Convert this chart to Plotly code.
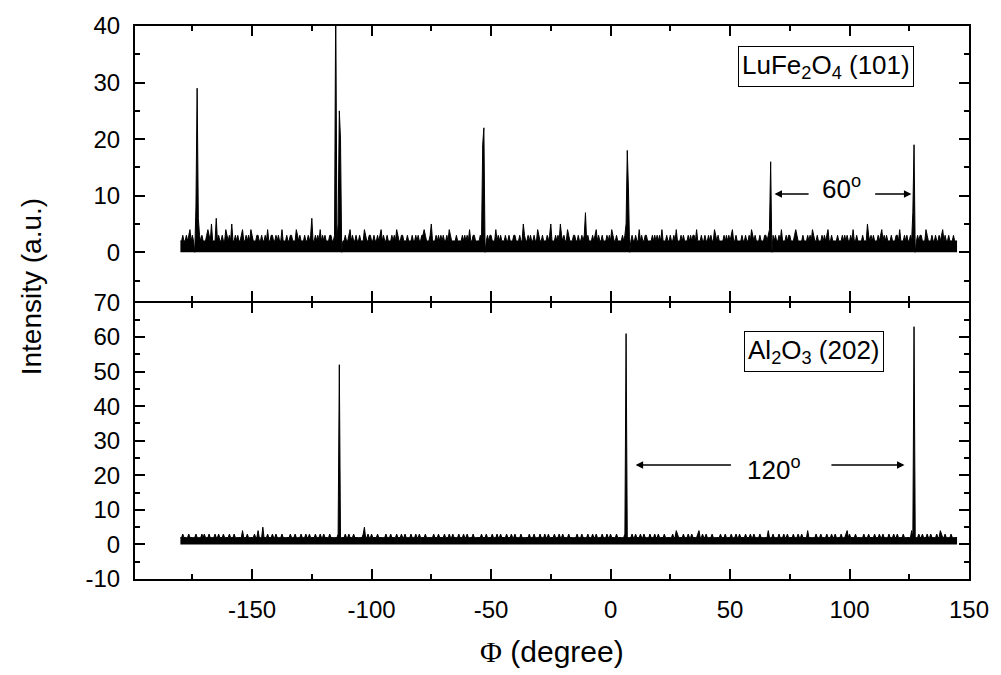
import plotly.graph_objects as go

# scan grid (phi in degrees)
x_start = -180.0
x_step = 0.5

# background envelope (counts), LuFe2O4 (101) scan, one digit per scan point
top_noise_groups = [
    "2232232342", "3222023232", "2234325222", "6232232243", "2325223232",
    "2342232324", "3222332232", "2324223322", "3232242223", "2233222432",
    "3222322323", "6223232423", "2322233223", "3232222232", "2342322322",
    "3222432233", "2232232342", "3223222323", "2432233222", "3222322323",
    "2233432223", "5222323232", "3223243222", "2322223232", "3242233222",
    "2323222323", "3222423232", "2232232223", "3222322532", "2323223224",
    "3223222323", "5222323253", "2322432223", "3223223237", "2322232342",
    "3223222323", "2432232222", "3232223232", "2322423223", "3222232323",
    "2324222322", "3223242223", "2322232323", "3242223223", "2232322432",
    "3222232323", "2342232222", "3223223243", "2322232223", "3232223232",
    "2324222323", "3222343222", "2322232324", "3223222323", "2342232222",
    "3222323232", "2324223222", "2322253232", "3222323423", "2322232223",
    "3242223232", "2322232323", "3222432223", "2232232342", "3223222322",
    "2",
]

# background envelope (counts), Al2O3 (202) scan
bot_noise_groups = [
    "2232222322", "2223222232", "3222322223", "2232223222", "2322232222",
    "2242223222", "2232242225", "2223222322", "3222232222", "2232223222",
    "2322232232", "2223222322", "3222232222", "2232222232", "2322232222",
    "2223522322", "3222232222", "2232223222", "2322232232", "2223222322",
    "3222232222", "2232223222", "2322232232", "2223222322", "3222232222",
    "2232223222", "2322232232", "2223222322", "3222232222", "2232223222",
    "2322232232", "2223222322", "3222232222", "2232223222", "2322232232",
    "2223222322", "3222232222", "2232222232", "2322232232", "2223222322",
    "3222232222", "2232243222", "2322232232", "2223422322", "3222232222",
    "2232223222", "2322232232", "2223222322", "3222232222", "2242223222",
    "2322232232", "2223222322", "3222242222", "2232223222", "2322232232",
    "2223222342", "3222232222", "2232223222", "2322232232", "2223222322",
    "3222232222", "2242222232", "2322232232", "2223224322", "3222232222",
    "2",
]

# Bragg peaks (and the dropouts right beside them)
top_peak_x = [-174.0, -173.5, -173.0, -172.5, -115.0,
              -114.0, -113.5, -113.0, -112.5,
              -53.5, -53.0, -52.5,
              6.5, 7.0, 7.5, 8.0,
              66.5, 67.0, 67.5,
              126.5, 127.0, 127.5]
top_peak_y = [0, 8, 29, 6, 45,
              5, 25, 20, 0,
              19, 22, 0,
              5, 18, 11, 0,
              4, 16, 0,
              7, 19, 0]
bot_peak_x = [-113.5, 6.5, 127.0]
bot_peak_y = [52, 61, 63]

x_ticks = [-150, -100, -50, 0, 50, 100, 150]
x_tick_text = ["-150", "-100", "-50", "0", "50", "100", "150"]
y_top_ticks = [0, 10, 20, 30, 40]
y_top_text = ["0", "10", "20", "30", "40"]
y_bot_ticks = [-10, 0, 10, 20, 30, 40, 50, 60, 70]
y_bot_text = ["-10", "0", "10", "20", "30", "40", "50", "60", "70"]


def build(groups, px, py):
    vals = [int(c) for c in "".join(groups)]
    xs = [x_start + i * x_step for i in range(len(vals))]
    for xp, yp in zip(px, py):
        vals[round((xp - x_start) / x_step)] = yp
    return xs, vals


xt, yt = build(top_noise_groups, top_peak_x, top_peak_y)
xb, yb = build(bot_noise_groups, bot_peak_x, bot_peak_y)

FONT = "Liberation Sans, Arial, sans-serif"

fig = go.Figure()
fig.add_trace(go.Scatter(x=xt, y=yt, mode="lines",
                         line=dict(color="black", width=1, simplify=False),
                         fill="tozeroy", fillcolor="black",
                         xaxis="x2", yaxis="y2", showlegend=False, hoverinfo="skip"))
fig.add_trace(go.Scatter(x=xb, y=yb, mode="lines",
                         line=dict(color="black", width=1, simplify=False),
                         fill="tozeroy", fillcolor="black",
                         xaxis="x", yaxis="y", showlegend=False, hoverinfo="skip"))

common = dict(showline=True, linecolor="black", linewidth=2, mirror="ticks",
              ticks="inside", ticklen=10, tickwidth=2, tickcolor="black",
              showgrid=False, zeroline=False,
              tickfont=dict(family=FONT, size=24, color="black"))


def minor(step):
    return dict(dtick=step, tick0=0, ticks="inside", ticklen=5,
                tickwidth=2, tickcolor="black")


top_bottom = 0.5 + 2 / 554

fig.update_layout(
    width=1001, height=675,
    margin=dict(l=135, r=26, t=25, b=96),
    plot_bgcolor="white", paper_bgcolor="white",
    xaxis=dict(domain=[0, 1], anchor="y", range=[-199, 150],
               tickvals=x_ticks, ticktext=x_tick_text, ticklabelstandoff=8,
               minor=minor(25), **common),
    xaxis2=dict(domain=[0, 1], anchor="y2", matches="x", showticklabels=False,
                tickvals=x_ticks, minor=minor(25), **common),
    yaxis=dict(domain=[0, 0.5], anchor="x", range=[-10, 70],
               tickvals=y_bot_ticks, ticktext=y_bot_text, ticklabelstandoff=8,
               minor=minor(5), **common),
    yaxis2=dict(domain=[top_bottom, 1], anchor="x2", range=[-8.53, 40],
                tickvals=y_top_ticks, ticktext=y_top_text, ticklabelstandoff=8,
                minor=minor(5), **common),
)

ann_font = dict(family=FONT, size=26, color="black")
arrow = dict(showarrow=True, arrowhead=2, arrowsize=1, arrowwidth=1.5,
             arrowcolor="black", text="")

annotations = [
    # sample labels
    dict(x=90.2, y=32.9, xref="x2", yref="y2", showarrow=False,
         text="LuFe<sub>2</sub>O<sub>4</sub> (101)", font=ann_font,
         bordercolor="black", borderwidth=1, borderpad=3, bgcolor="white"),
    dict(x=85.1, y=55.9, xref="x", yref="y", showarrow=False,
         text="Al<sub>2</sub>O<sub>3</sub> (202)", font=ann_font,
         bordercolor="black", borderwidth=1, borderpad=3, bgcolor="white"),
    # angle labels
    dict(x=96.5, y=11.5, xref="x2", yref="y2", showarrow=False,
         text="60<sup>o</sup>", font=ann_font),
    dict(x=68.5, y=21.9, xref="x", yref="y", showarrow=False,
         text="120<sup>o</sup>", font=ann_font),
    # arrows
    dict(x=68.6, y=10.3, ax=83.5, ay=10.3, xref="x2", yref="y2",
         axref="x2", ayref="y2", **arrow),
    dict(x=125.9, y=10.3, ax=110.1, ay=10.3, xref="x2", yref="y2",
         axref="x2", ayref="y2", **arrow),
    dict(x=10.5, y=23.0, ax=51.0, ay=23.0, xref="x", yref="y",
         axref="x", ayref="y", **arrow),
    dict(x=123.0, y=23.0, ax=91.8, ay=23.0, xref="x", yref="y",
         axref="x", ayref="y", **arrow),
    # axis titles
    dict(x=(31 - 135) / 840, y=(579 - 286) / 554, xref="paper", yref="paper",
         showarrow=False, textangle=-90, text="Intensity (a.u.)",
         font=dict(family=FONT, size=28, color="black"),
         xanchor="center", yanchor="middle"),
    dict(x=0.5, y=(579 - 652) / 554, xref="paper", yref="paper",
         showarrow=False,
         text='<span style="font-family:Liberation Serif">Φ</span> (degree)',
         font=dict(family=FONT, size=30, color="black"),
         xanchor="center", yanchor="middle"),
]
fig.update_layout(annotations=annotations)

fig.write_html("out.html")
